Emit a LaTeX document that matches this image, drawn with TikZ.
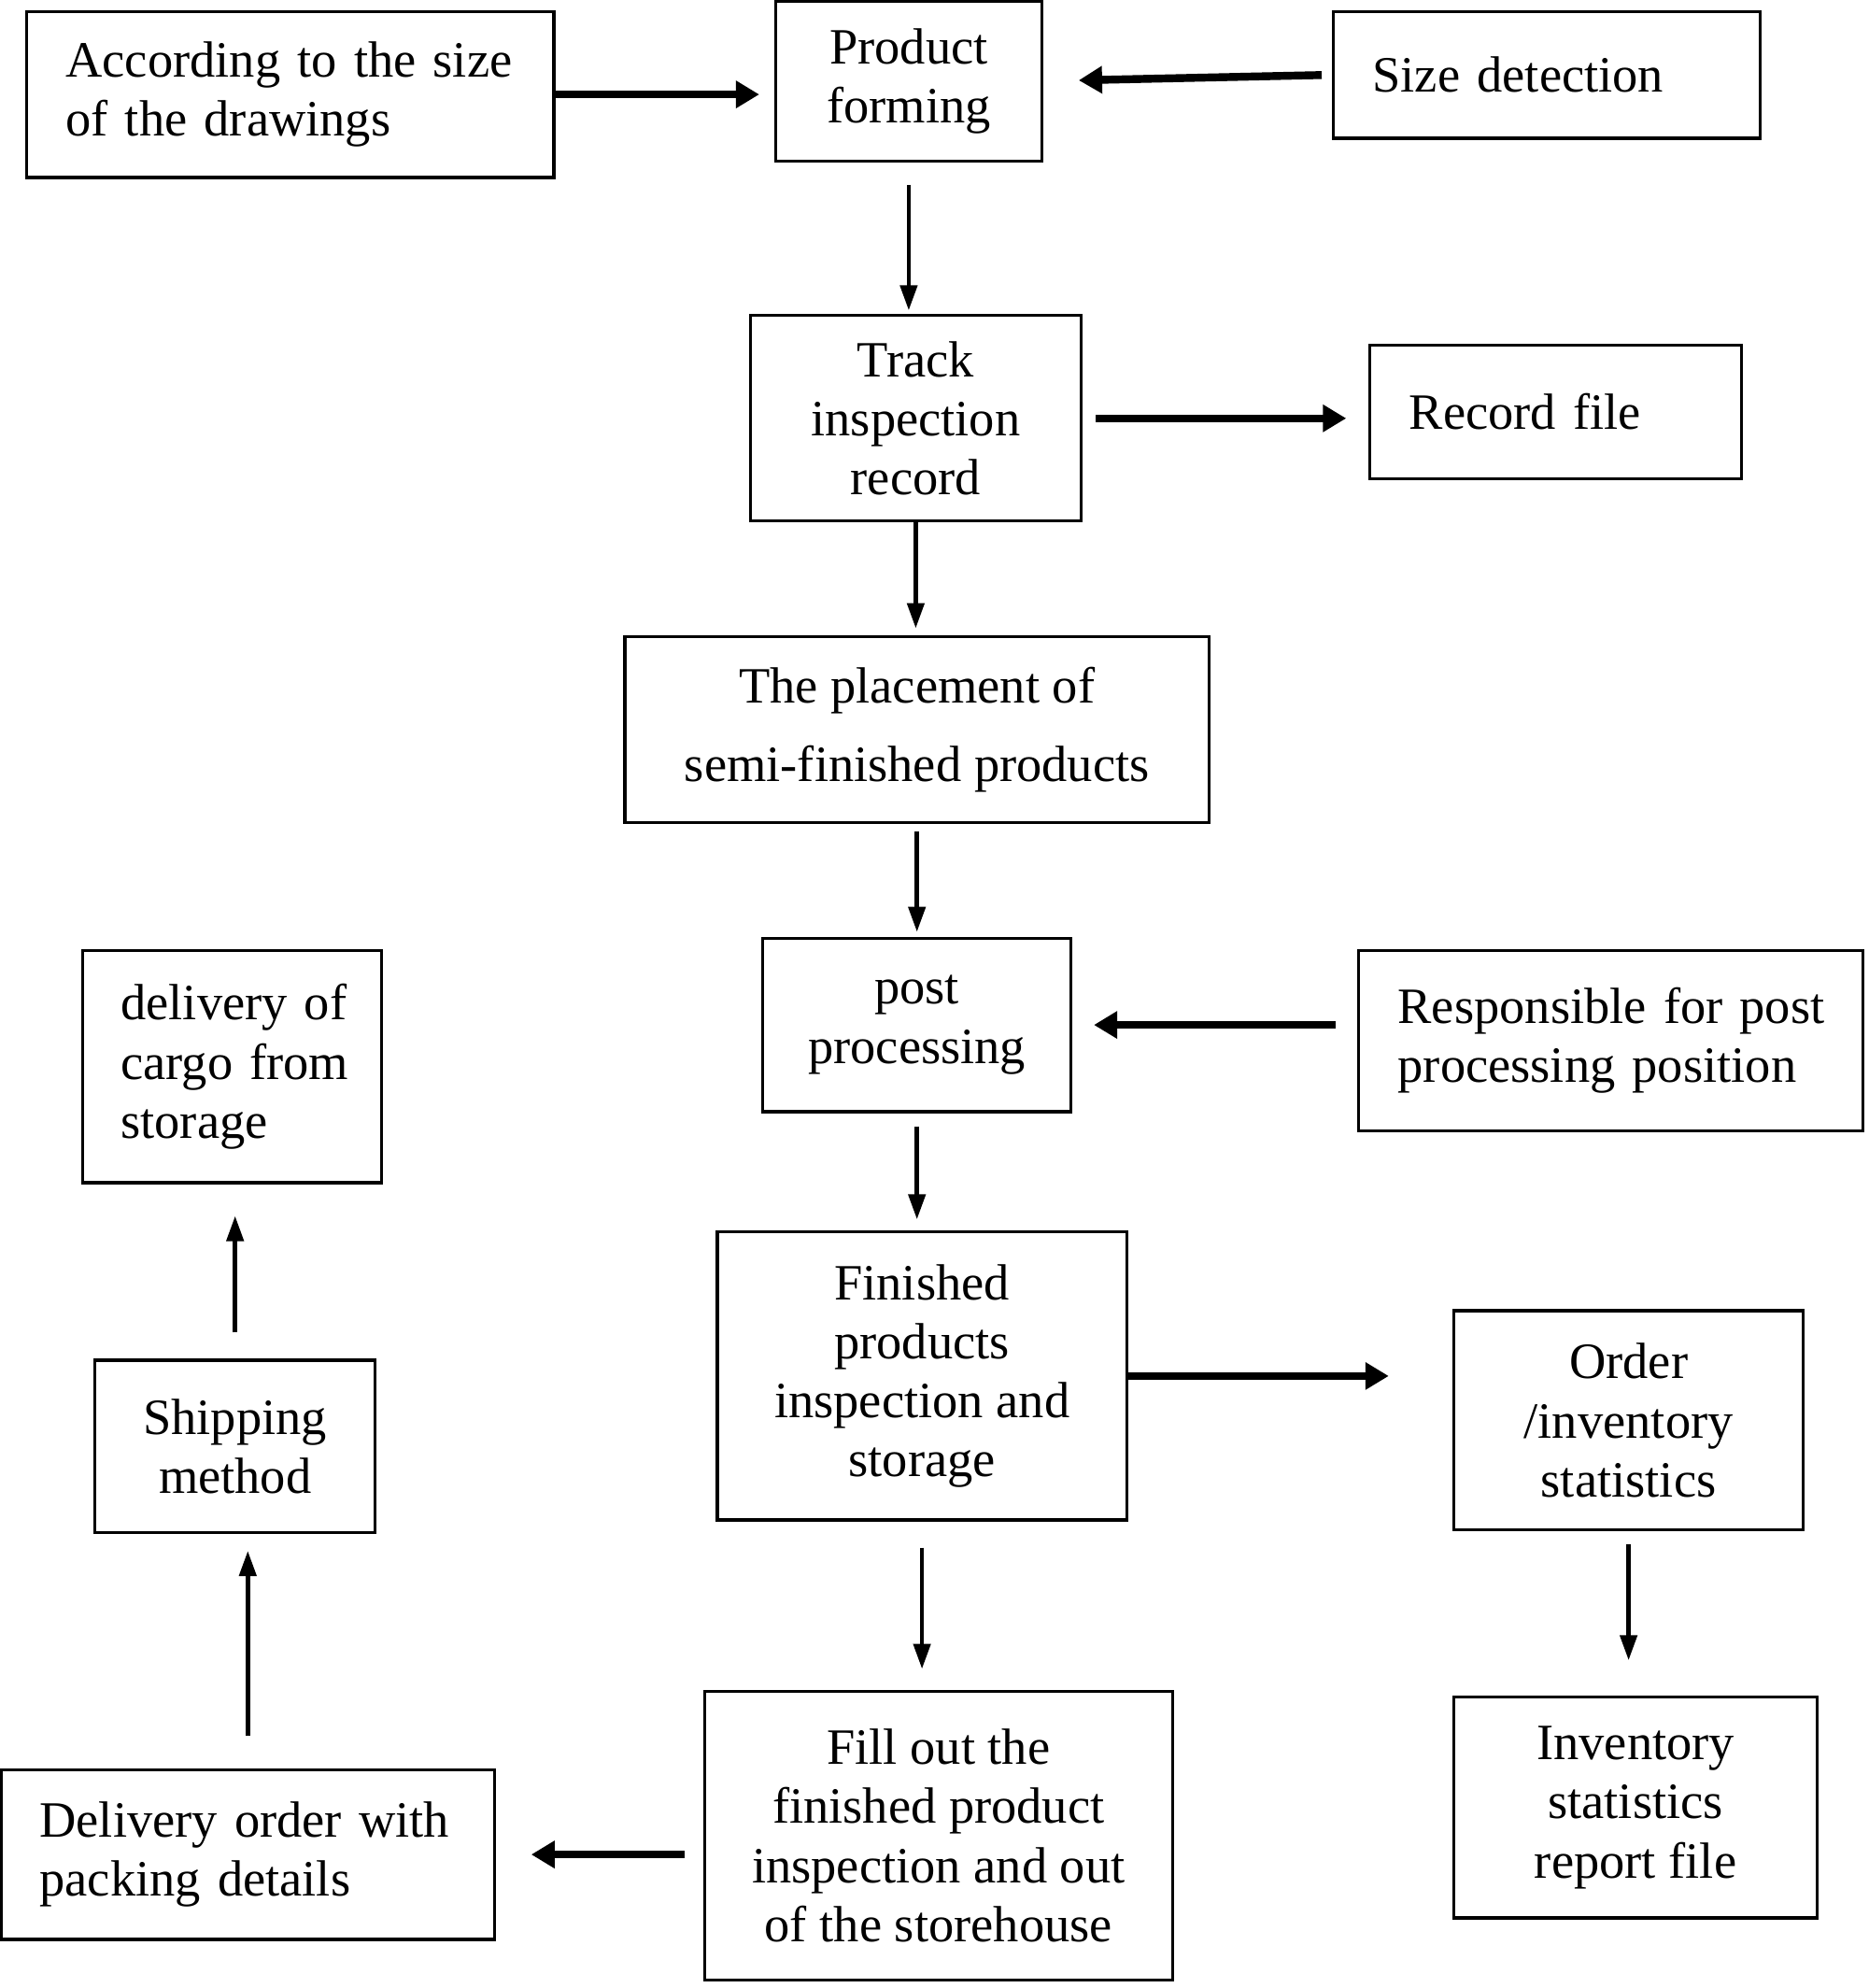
\documentclass[tikz,border=0pt]{standalone}
\usepackage{fontspec}
\setmainfont{Liberation Serif}
\usepackage{tikz}
\usetikzlibrary{positioning}
\usetikzlibrary{arrows.meta}

\begin{document}
\begin{tikzpicture}[
    box/.style={draw, line width=0.9pt, align=center, inner sep=0pt, font=\fontsize{15.5}{18}\selectfont},
    lbox/.style={draw, line width=0.9pt, align=left, inner xsep=0.42cm, inner ysep=0pt, font=\fontsize{15.5}{18}\selectfont},
    thin arrow/.style={-{Triangle[length=0.27cm, width=0.18cm]}, line width=1.3pt},
    thick arrow/.style={-{Triangle[length=0.25cm, width=0.28cm]}, line width=2.4pt}]

                \useasboundingbox (0,0) rectangle (20,-21.28);

                % Nodes
                \node at (3.107,-1.011) (acc) [lbox, text width=4.805cm, minimum height=1.778cm] {\mbox{According to the size}\\\mbox{of the drawings}};
                \node at (9.729,-0.868) (prod) [box, minimum width=2.849cm, minimum height=1.710cm] {Product\\forming};
                \node at (16.561,-0.801) (size) [lbox, text width=3.732cm, minimum height=1.357cm] {\mbox{Size detection}};
                \node at (9.804,-4.478) (track) [box, minimum width=3.541cm, minimum height=2.198cm] {Track\\inspection\\record};
                \node at (16.656,-4.410) (rec) [lbox, text width=3.135cm, minimum height=1.438cm] {\mbox{Record file}};
                \node at (9.817,-7.809) (place) [box, minimum width=6.255cm, minimum height=1.995cm, font=\fontsize{15.5}{24}\selectfont] {The placement of\\semi-finished products};
                \node at (9.817,-10.971) (post) [box, minimum width=3.297cm, minimum height=1.859cm] {post\\processing};
                \node at (17.246,-11.140) (resp) [lbox, text width=4.56cm, minimum height=1.927cm] {\mbox{Responsible for post}\\\mbox{processing position}};
                \node at (2.483,-11.418) (cargo) [lbox, inner xsep=0.41cm, text width=2.38cm, minimum height=2.483cm] {\mbox{delivery of}\\\mbox{cargo from}\\\mbox{storage}};
                \node at (9.871,-14.729) (fin) [box, minimum width=4.383cm, minimum height=3.080cm] {Finished\\products\\inspection and\\storage};
                \node at (17.436,-15.204) (order) [box, minimum width=3.745cm, minimum height=2.347cm] {Order\\/inventory\\statistics};
                \node at (2.517,-15.482) (ship) [box, minimum width=2.999cm, minimum height=1.845cm] {Shipping\\method};
                \node at (10.048,-19.648) (fill) [box, minimum width=5.007cm, minimum height=3.094cm] {Fill out the\\finished product\\inspection and out\\of the storehouse};
                \node at (2.653,-19.851) (deliv) [lbox, inner xsep=0.41cm, text width=4.458cm, minimum height=1.818cm] {\mbox{Delivery order with}\\\mbox{packing details}};
                \node at (17.511,-19.349) (inv) [box, minimum width=3.894cm, minimum height=2.361cm] {Inventory\\statistics\\report file};

                % Arrows
                \draw[thick arrow, shorten >=0.16cm] (acc.east) -- (acc.east -| prod.west);
                \draw[thick arrow, shorten <=0.11cm, shorten >=0.38cm] (size.west) -- (prod.east);
                \draw[thin arrow, shorten <=0.24cm, shorten >=0.04cm] (prod.south) -- (prod.south |- track.north);
                \draw[thick arrow, shorten <=0.14cm, shorten >=0.24cm] (track.east) -- (track.east -| rec.west);
                \draw[thin arrow, shorten >=0.07cm] (track.south) -- (track.south |- place.north);
                \draw[thin arrow, shorten <=0.08cm, shorten >=0.05cm] (place.south) -- (post.north);
                \draw[thick arrow, shorten <=0.23cm, shorten >=0.23cm] (post.east -| resp.west) -- (post.east);
                \draw[thin arrow, shorten <=0.14cm, shorten >=0.12cm] (post.south) -- (post.south |- fin.north);
                \draw[thick arrow, shorten >=0.68cm] (fin.east) -- (fin.east -| order.west);
                \draw[thin arrow, shorten <=0.28cm, shorten >=0.22cm] (fin.south) -- (fin.south |- fill.north);
                \draw[thin arrow, shorten <=0.14cm, shorten >=0.38cm] (order.south) -- (order.south |- inv.north);
                \draw[thick arrow, shorten <=0.2cm, shorten >=0.38cm] (deliv.east -| fill.west) -- (deliv.east);
                \draw[thin arrow, shorten <=0.35cm, shorten >=0.18cm] (deliv.north) -- (deliv.north |- ship.south);
                \draw[thin arrow, shorten <=0.28cm, shorten >=0.34cm] (ship.north) -- (ship.north |- cargo.south);

            \end{tikzpicture}
\end{document}
